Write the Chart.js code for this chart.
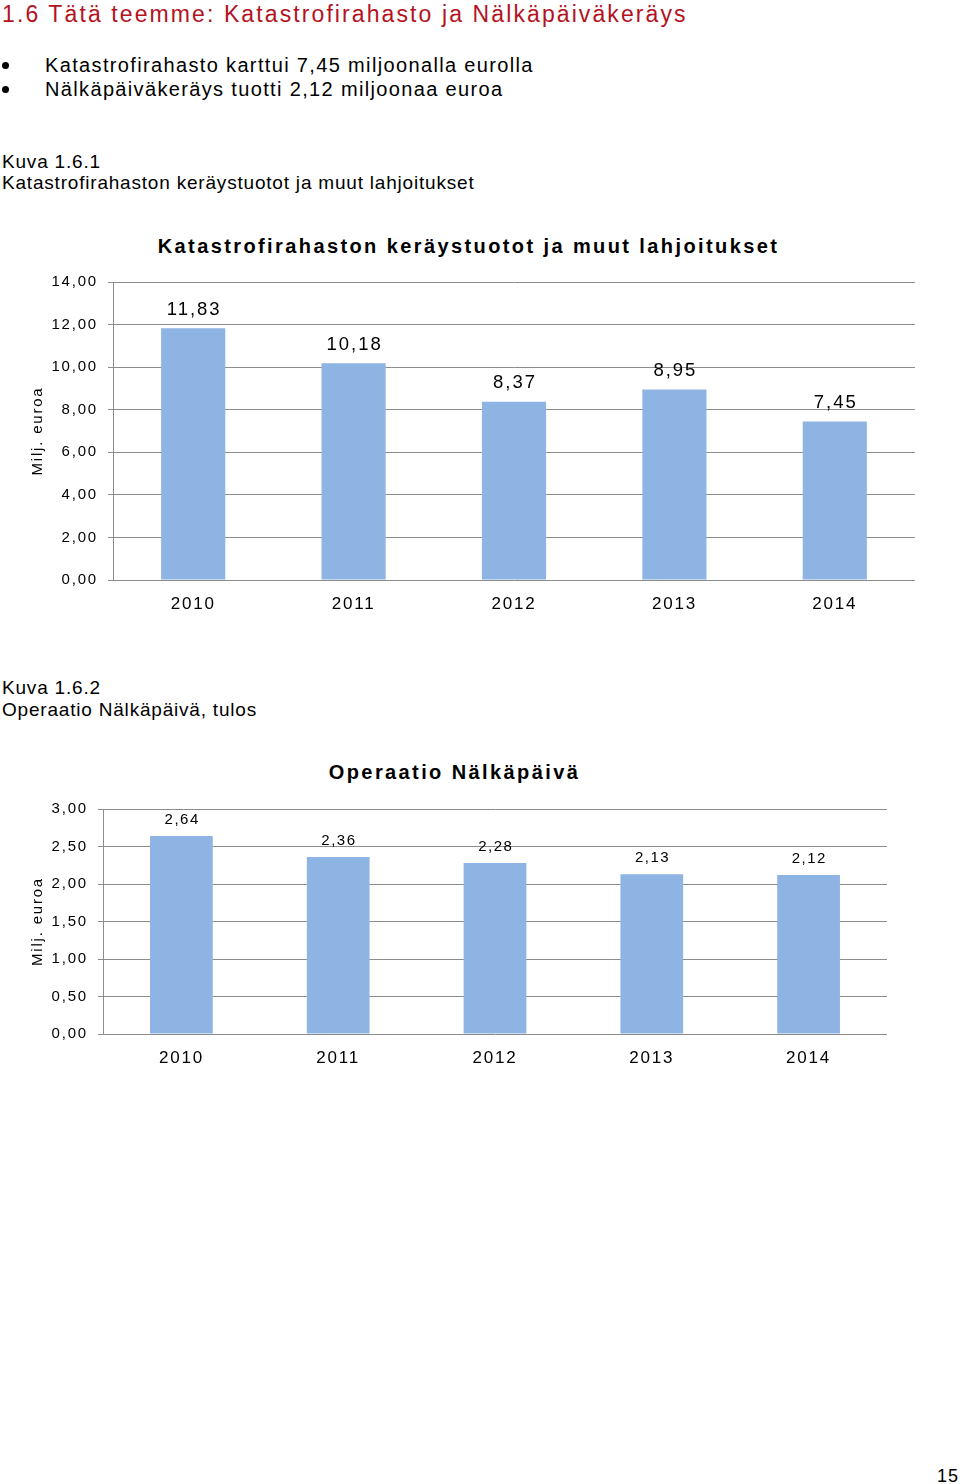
<!DOCTYPE html>
<html lang="fi">
<head>
<meta charset="utf-8">
<title>Katastrofirahasto ja Nälkäpäiväkeräys</title>
<script src="https://cdn.jsdelivr.net/npm/chart.js@4"></script>
<style>
  body { margin: 0; width: 960px; height: 1484px; position: relative; background: #fff; overflow: hidden;
         font-family: "Liberation Sans", Arial, sans-serif; color: #000; }
  .txt { position: absolute; white-space: nowrap; line-height: 1; }
  .dot { position: absolute; width: 7px; height: 7px; border-radius: 50%; background: #000; }
  canvas { position: absolute; left: 0; }
</style>
</head>
<body>
<div class="txt" style="left:2px; top:3px; font-size:23px; letter-spacing:2.1px; color:#b4121f;">1.6 Tätä teemme: Katastrofirahasto ja Nälkäpäiväkeräys</div>

<div class="dot" style="left:2px; top:62px;"></div>
<div class="txt" style="left:45px; top:55px; font-size:20px; letter-spacing:1.35px;">Katastrofirahasto karttui 7,45 miljoonalla eurolla</div>
<div class="dot" style="left:2px; top:86px;"></div>
<div class="txt" style="left:45px; top:79px; font-size:20px; letter-spacing:1.35px;">Nälkäpäiväkeräys tuotti 2,12 miljoonaa euroa</div>

<div class="txt" style="left:2px; top:152px; font-size:19px; letter-spacing:0.8px;">Kuva 1.6.1</div>
<div class="txt" style="left:2px; top:173px; font-size:19px; letter-spacing:0.8px;">Katastrofirahaston keräystuotot ja muut lahjoitukset</div>

<div class="txt" style="left:0; width:937px; text-align:center; top:236px; font-size:20px; font-weight:bold; letter-spacing:2.4px;">Katastrofirahaston keräystuotot ja muut lahjoitukset</div>
<canvas id="chart1" width="960" height="368" style="top:262px;"></canvas>

<div class="txt" style="left:2px; top:678px; font-size:19px; letter-spacing:0.8px;">Kuva 1.6.2</div>
<div class="txt" style="left:2px; top:700px; font-size:19px; letter-spacing:0.8px;">Operaatio Nälkäpäivä, tulos</div>

<div class="txt" style="left:0; width:909px; text-align:center; top:762px; font-size:20px; font-weight:bold; letter-spacing:2.4px;">Operaatio Nälkäpäivä</div>
<canvas id="chart2" width="960" height="294" style="top:790px;"></canvas>

<div class="txt" style="right:1px; top:1467px; font-size:18px; letter-spacing:1px;">15</div>

<script>
// data
const years = ['2010', '2011', '2012', '2013', '2014'];
const katastrofiValues = [11.83, 10.18, 8.37, 8.95, 7.45];
const nalkapaivaValues = [2.64, 2.36, 2.28, 2.13, 2.12];
const axisTitle = 'Milj. euroa';

const barColor = '#8eb4e3';
const gridColor = '#8c8c8c';

Chart.defaults.font.family = '"Liberation Sans", Arial, sans-serif';
Chart.defaults.color = '#000';

function fmt(v) {
  return v.toFixed(2).replace('.', ',');
}

// wider letter spacing for all canvas text, like the original pdf
const spacing = {
  id: 'spacing',
  beforeDraw(chart) {
    chart.ctx.letterSpacing = '1.8px';
  }
};

// value labels above bars
const barLabels = {
  id: 'barLabels',
  afterDatasetsDraw(chart, args, opts) {
    const ctx = chart.ctx;
    const values = chart.data.datasets[0].data;
    ctx.save();
    ctx.font = opts.size + 'px "Liberation Sans", Arial, sans-serif';
    ctx.letterSpacing = opts.spacing + 'px';
    ctx.fillStyle = '#000';
    ctx.textAlign = 'center';
    ctx.textBaseline = 'alphabetic';
    chart.getDatasetMeta(0).data.forEach((bar, i) => {
      ctx.fillText(fmt(values[i]), bar.x + opts.spacing / 2, bar.y - opts.gap);
    });
    ctx.restore();
  }
};

function makeChart(id, values, yMax, yStep, axisWidth, padTop, padRight, label) {
  return new Chart(document.getElementById(id), {
    type: 'bar',
    data: {
      labels: years,
      datasets: [{
        data: values,
        backgroundColor: barColor,
        borderWidth: 0,
        categoryPercentage: 1,
        barPercentage: 0.4
      }]
    },
    plugins: [spacing, barLabels],
    options: {
      responsive: false,
      animation: false,
      layout: { padding: { left: 29, right: padRight, top: padTop, bottom: 0 } },
      plugins: {
        legend: { display: false },
        tooltip: { enabled: false },
        barLabels: label
      },
      scales: {
        x: {
          grid: { display: false, drawTicks: false },
          border: { display: false },
          ticks: { font: { size: 17 }, padding: 14, color: '#000' },
          afterFit(scale) { scale.height = 50; }
        },
        y: {
          min: 0,
          max: yMax,
          ticks: {
            stepSize: yStep,
            font: { size: 15 },
            padding: 10,
            color: '#000',
            callback: v => fmt(v)
          },
          grid: { color: gridColor, lineWidth: 1, tickLength: 5, drawTicks: true },
          border: { display: true, color: gridColor, width: 1 },
          title: {
            display: true,
            text: axisTitle,
            font: { size: 15 },
            color: '#000',
            padding: { top: 0, bottom: 0 }
          },
          afterFit(scale) { scale.width = axisWidth; }
        }
      }
    }
  });
}

makeChart('chart1', katastrofiValues, 14, 2, 84, 20, 45, { size: 18.5, spacing: 2, gap: 13.4 });
makeChart('chart2', nalkapaivaValues, 3, 0.5, 74, 18, 73, { size: 15, spacing: 1.5, gap: 12.2 });
</script>
</body>
</html>
